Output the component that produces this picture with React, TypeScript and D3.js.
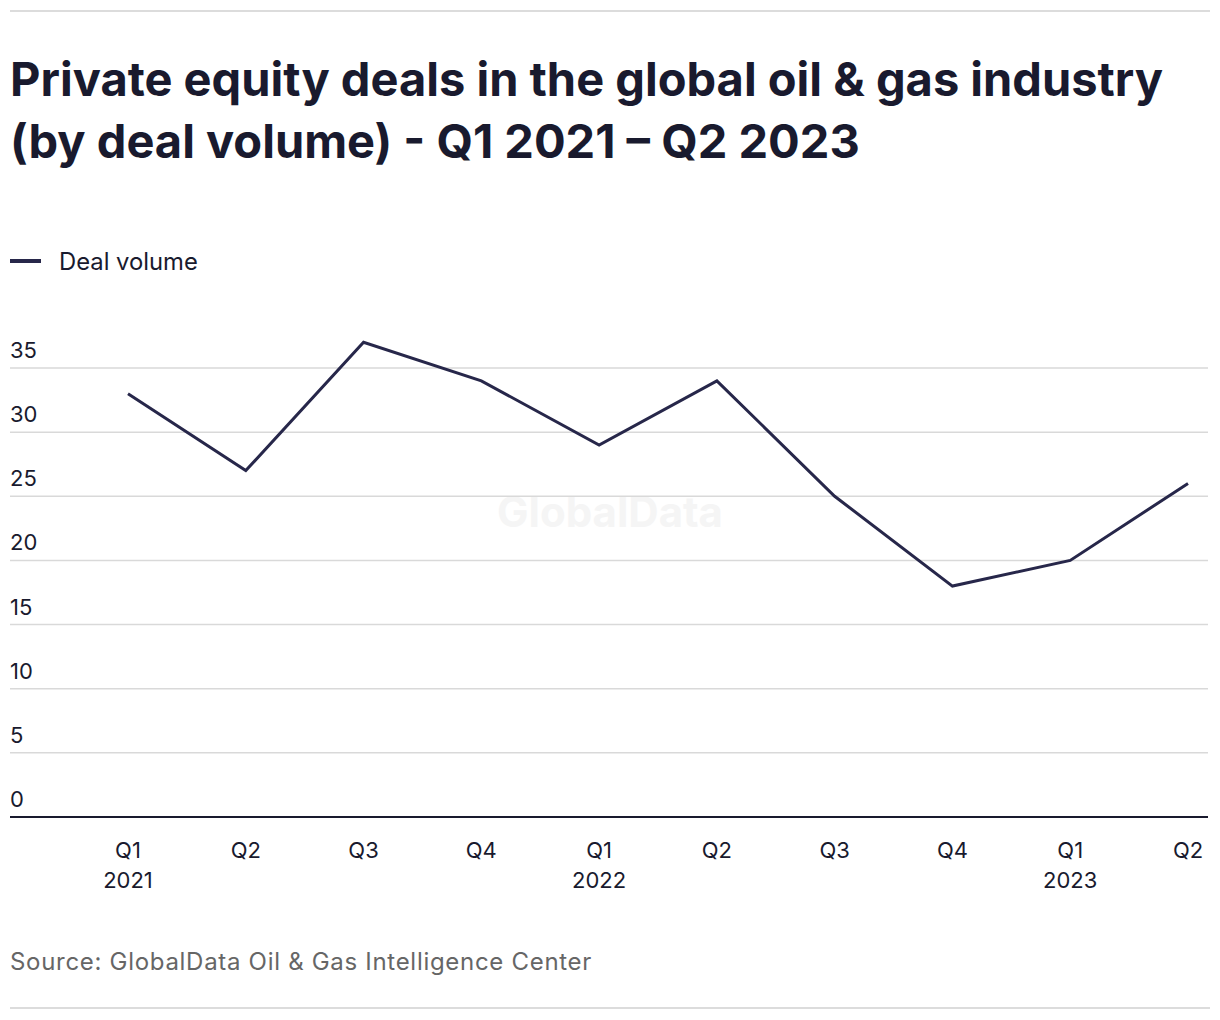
import { useEffect, useRef } from 'react';
import * as d3 from 'd3';

const quarters = ['Q1', 'Q2', 'Q3', 'Q4', 'Q1', 'Q2', 'Q3', 'Q4', 'Q1', 'Q2'];
const years = ['2021', '', '', '', '2022', '', '', '', '2023', ''];
const dealVolume = [33, 27, 37, 34, 29, 34, 25, 18, 20, 26];
const yTicks = [0, 5, 10, 15, 20, 25, 30, 35];

const W = 1220;
const H = 1020;
const FONT = 'Inter, "Noto Sans", sans-serif';
const INK = '#191a2e';
const LINE = '#27274a';

export default function App() {
  const ref = useRef<SVGSVGElement>(null);

  useEffect(() => {
    if (!ref.current) return;
    const svg = d3.select(ref.current);
    svg.selectAll('*').remove();

    const left = 10;
    const right = 1208;
    const x = d3.scalePoint<number>().domain(d3.range(dealVolume.length)).range([128, 1188]);
    const y = d3.scaleLinear().domain([0, 35]).range([817, 368]);

    // top / bottom rules
    svg.append('line').attr('x1', 10).attr('x2', 1210).attr('y1', 11).attr('y2', 11).attr('stroke', '#dcdcdc').attr('stroke-width', 2);
    svg.append('line').attr('x1', 10).attr('x2', 1210).attr('y1', 1008).attr('y2', 1008).attr('stroke', '#dcdcdc').attr('stroke-width', 2);

    // title
    const title = svg.append('text').attr('font-family', FONT).attr('font-weight', 700).attr('font-size', 47).attr('fill', INK);
    title.append('tspan').attr('x', 10).attr('y', 96).text('Private equity deals in the global oil & gas industry');
    title.append('tspan').attr('x', 10).attr('y', 158).text('(by deal volume) - Q1 2021 – Q2 2023');

    // legend
    svg.append('line').attr('x1', 10).attr('x2', 41).attr('y1', 261).attr('y2', 261).attr('stroke', LINE).attr('stroke-width', 4);
    svg.append('text').attr('x', 59).attr('y', 270).attr('font-family', FONT).attr('font-size', 23.8).attr('fill', INK).text('Deal volume');

    // watermark
    svg.append('text').attr('x', 610).attr('y', 527).attr('text-anchor', 'middle').attr('font-family', FONT)
      .attr('font-weight', 700).attr('font-size', 42).attr('fill', '#f5f5f5').text('GlobalData');

    // grid + y labels
    const g = svg.append('g');
    yTicks.forEach((t) => {
      if (t > 0) {
        g.append('line').attr('x1', left).attr('x2', right).attr('y1', y(t)).attr('y2', y(t)).attr('stroke', '#d9d9d9').attr('stroke-width', 1.5);
      }
      g.append('text').attr('x', left).attr('y', y(t) - 10).attr('font-family', FONT).attr('font-size', 22).attr('fill', INK).text(String(t));
    });
    g.append('line').attr('x1', left).attr('x2', right).attr('y1', y(0)).attr('y2', y(0)).attr('stroke', INK).attr('stroke-width', 2);

    // x labels
    quarters.forEach((q, i) => {
      const t = g.append('text').attr('text-anchor', 'middle').attr('font-family', FONT).attr('font-size', 22).attr('fill', INK);
      t.append('tspan').attr('x', x(i)).attr('y', 858).text(q);
      if (years[i]) t.append('tspan').attr('x', x(i)).attr('y', 888).text(years[i]);
    });

    // line
    const line = d3.line<number>().x((_, i) => x(i) as number).y((d) => y(d));
    g.append('path').datum(dealVolume).attr('fill', 'none').attr('stroke', LINE).attr('stroke-width', 3)
      .attr('stroke-linejoin', 'miter').attr('d', line);

    // source
    svg.append('text').attr('x', 10).attr('y', 970).attr('font-family', FONT).attr('font-size', 24)
      .attr('letter-spacing', 0.7).attr('fill', '#666666')
      .text('Source: GlobalData Oil & Gas Intelligence Center');
  }, []);

  return <svg ref={ref} width={W} height={H} style={{ position: 'absolute', left: 0, top: 0, background: '#fff' }} />;
}
